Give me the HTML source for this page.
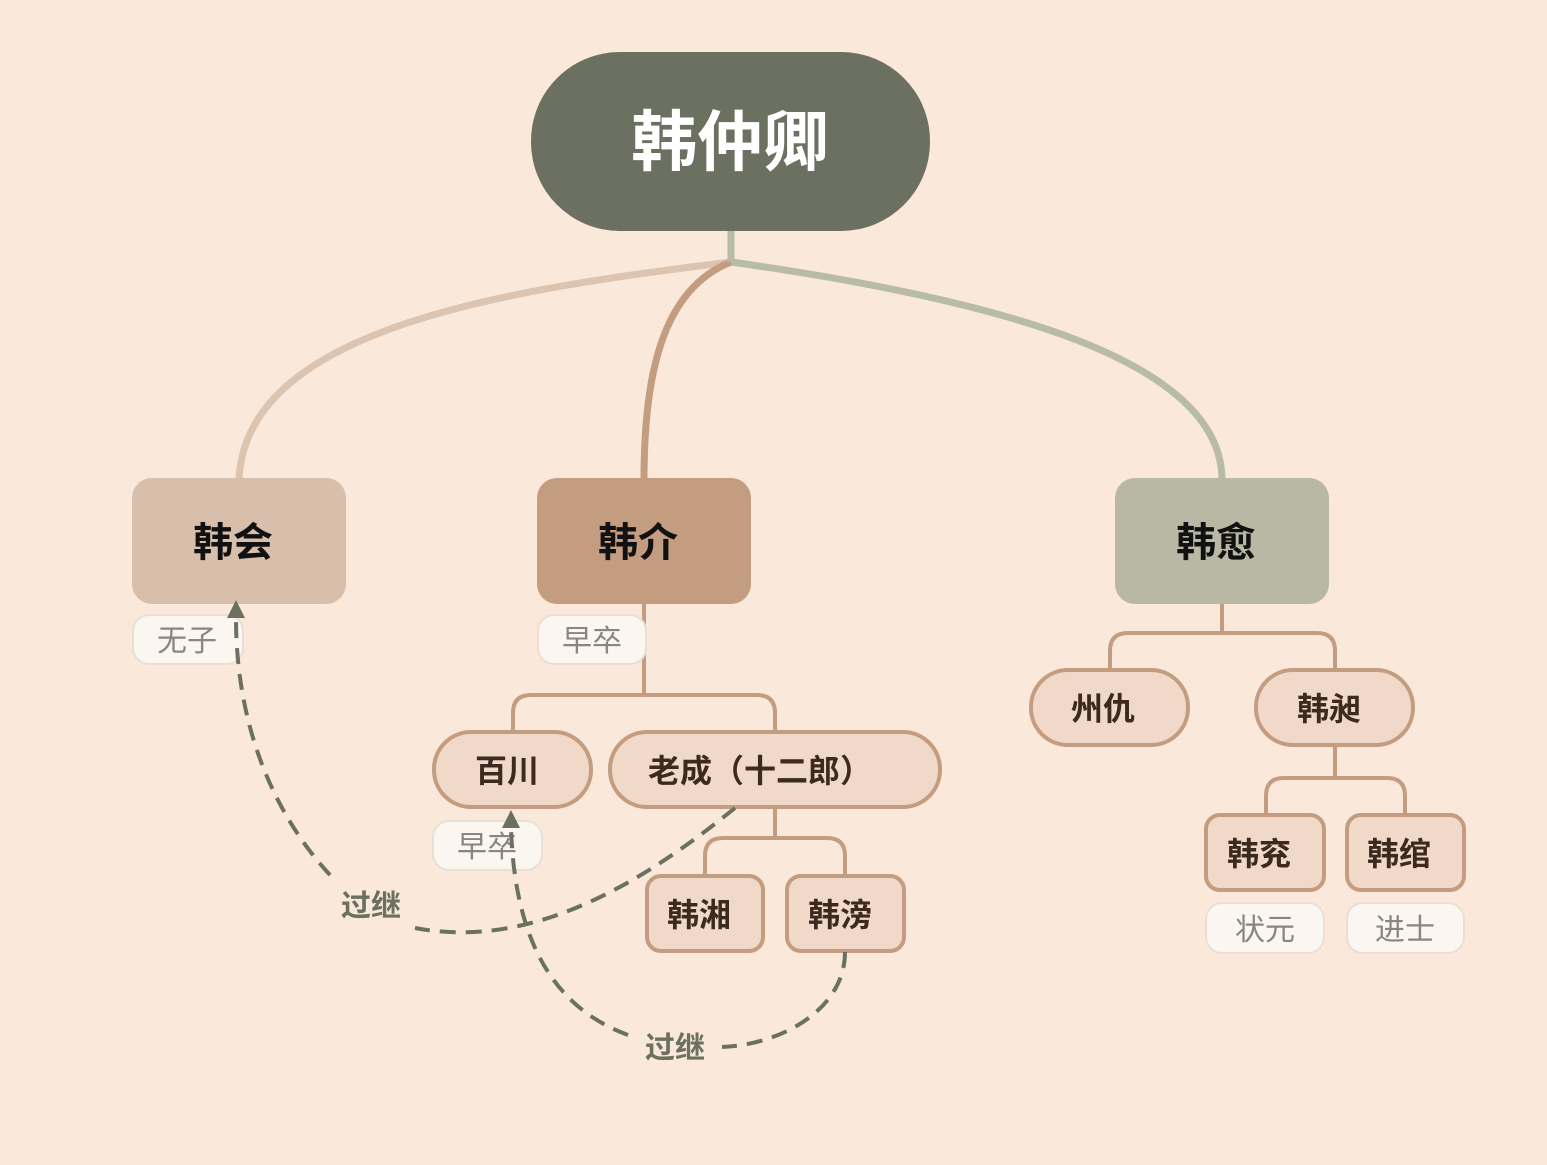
<!DOCTYPE html>
<html><head><meta charset="utf-8"><style>
html,body{margin:0;padding:0;background:#fae8da;}
svg text{font-family:"Liberation Sans","Noto Sans CJK SC",sans-serif;}
</style></head><body>
<svg width="1547" height="1160" viewBox="0 0 1547 1160" xmlns="http://www.w3.org/2000/svg">
<rect width="1547" height="1160" fill="#fae8da"/>
<!-- main curves -->
<g fill="none" stroke-width="7">
<path d="M731,262 C500,290 245,330 239,480" stroke="#dcc4b1"/>
<path d="M731,262 C1000,300 1222,360 1222,480" stroke="#b8bba8"/>
<path d="M731,262 C660,290 644,380 644,480" stroke="#c49c80"/>
<path d="M731,231 V262" stroke="#b8bba8"/>
</g>
<!-- root -->
<rect x="531" y="52" width="399" height="179" rx="89" fill="#6b7060"/>
<text x="730" y="165" font-size="66" font-weight="bold" fill="#fff" text-anchor="middle">韩仲卿</text>
<!-- tree connectors -->
<g fill="none" stroke="#c49c80" stroke-width="4">
<path d="M644,604 V695 M513,732 V713 Q513,695 531,695 H757 Q775,695 775,713 V732"/>
<path d="M775,807 V838 M705,876 V856 Q705,838 723,838 H827 Q845,838 845,856 V876"/>
<path d="M1222,604 V633 M1110,670 V651 Q1110,633 1128,633 H1317 Q1335,633 1335,651 V670"/>
<path d="M1335,745 V778 M1266,815 V796 Q1266,778 1284,778 H1387 Q1405,778 1405,796 V815"/>
</g>
<!-- branch boxes -->
<rect x="132" y="478" width="214" height="126" rx="20" fill="#d8bfac"/>
<text x="233" y="556" font-size="40" font-weight="bold" fill="#111" text-anchor="middle">韩会</text>
<rect x="537" y="478" width="214" height="126" rx="20" fill="#c49c80"/>
<text x="638" y="556" font-size="40" font-weight="bold" fill="#111" text-anchor="middle">韩介</text>
<rect x="1115" y="478" width="214" height="126" rx="20" fill="#b8b8a5"/>
<text x="1216" y="556" font-size="40" font-weight="bold" fill="#111" text-anchor="middle">韩愈</text>
<!-- tags -->
<g fill="#fcf6f0" stroke="#eadfd5" stroke-width="2">
<rect x="133" y="615" width="110" height="49" rx="16"/>
<rect x="538" y="615" width="108" height="49" rx="16"/>
<rect x="433" y="821" width="109" height="49" rx="16"/>
<rect x="1206" y="903" width="118" height="50" rx="16"/>
<rect x="1347" y="903" width="117" height="50" rx="16"/>
</g>
<g font-size="30" fill="#8a8580" text-anchor="middle">
<text x="187" y="651">无子</text>
<text x="592" y="651">早卒</text>
<text x="487" y="857">早卒</text>
<text x="1265" y="940">状元</text>
<text x="1405" y="940">进士</text>
</g>
<!-- child nodes -->
<g fill="#f0d9c8" stroke="#c49c80" stroke-width="4">
<rect x="434" y="732" width="157" height="75" rx="37"/>
<rect x="610" y="732" width="330" height="75" rx="37"/>
<rect x="647" y="876" width="116" height="75" rx="14"/>
<rect x="787" y="876" width="117" height="75" rx="14"/>
<rect x="1031" y="670" width="157" height="75" rx="37"/>
<rect x="1256" y="670" width="157" height="75" rx="37"/>
<rect x="1206" y="815" width="118" height="75" rx="14"/>
<rect x="1347" y="815" width="117" height="75" rx="14"/>
</g>
<g font-size="32" font-weight="bold" fill="#3d2a1e" text-anchor="middle">
<text x="507" y="782">百川</text>
<text x="760" y="782">老成（十二郎）</text>
<text x="699" y="926">韩湘</text>
<text x="840" y="926">韩滂</text>
<text x="1103" y="720">州仇</text>
<text x="1329" y="720">韩昶</text>
<text x="1259" y="865">韩兖</text>
<text x="1399" y="865">韩绾</text>
</g>
<!-- dashed adoption lines -->
<g fill="none" stroke="#6b7060" stroke-width="4" stroke-dasharray="16 10">
<path d="M735,808 C640,885 530,950 415,928"/>
<path d="M330,875 C270,810 236,720 236,618"/>
<path d="M845,952 C845,1010 780,1045 722,1047"/>
<path d="M628,1035 C560,1010 515,950 511,828"/>
</g>
<path d="M236,600 L227,618 L245,618 Z" fill="#6b7060"/>
<path d="M511,810 L502,828 L520,828 Z" fill="#6b7060"/>
<g font-size="30" font-weight="bold" fill="#6b7060" text-anchor="middle">
<text x="371" y="916">过继</text>
<text x="675" y="1058">过继</text>
</g>
</svg>
</body></html>
